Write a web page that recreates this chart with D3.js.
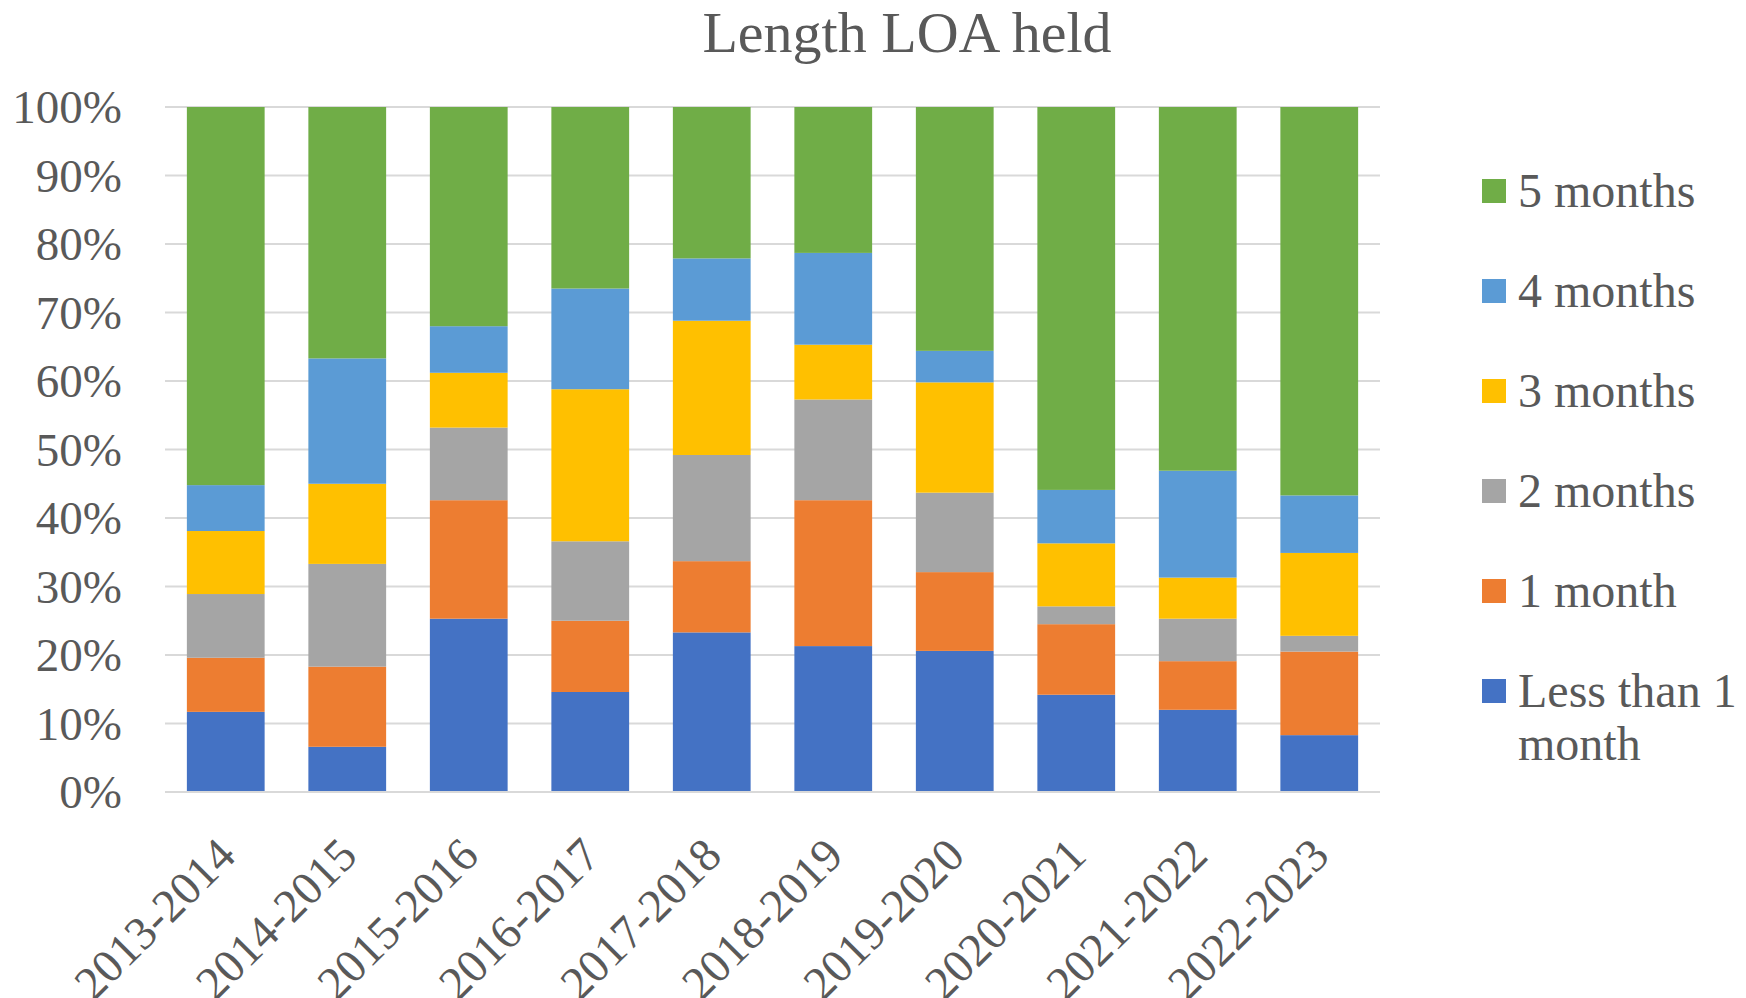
<!DOCTYPE html>
<html>
<head>
<meta charset="utf-8">
<script src="https://cdn.jsdelivr.net/npm/d3@7"></script>
<style>
  html, body { margin: 0; padding: 0; background: #ffffff; }
  svg { display: block; }
</style>
</head>
<body>
<svg id="chart" width="1746" height="998"></svg>
<script>
const categories = ["2013-2014","2014-2015","2015-2016","2016-2017","2017-2018","2018-2019","2019-2020","2020-2021","2021-2022","2022-2023"];
const seriesNames = ["Less than 1 month","1 month","2 months","3 months","4 months","5 months"];
const lessThan1 = [11.7, 6.6, 25.3, 14.6, 23.3, 21.3, 20.6, 14.2, 12.0, 8.3];
const month1    = [7.9, 11.7, 17.3, 10.4, 10.4, 21.3, 11.5, 10.3, 7.1, 12.2];
const months2   = [9.3, 15.0, 10.6, 11.6, 15.5, 14.7, 11.6, 2.6, 6.2, 2.3];
const months3   = [9.2, 11.7, 8.0, 22.2, 19.6, 8.0, 16.1, 9.2, 6.0, 12.1];
const months4   = [6.7, 18.3, 6.8, 14.7, 9.1, 13.4, 4.6, 7.8, 15.6, 8.4];
const months5   = [55.2, 36.7, 32.0, 26.5, 22.1, 21.3, 35.6, 55.9, 53.1, 56.7];
const seriesColors = ["#4472C4","#ED7D31","#A5A5A5","#FFC000","#5B9BD5","#70AD47"];
const yTicks = [0,10,20,30,40,50,60,70,80,90,100];
const titleText = "Length LOA held";

const allSeries = [lessThan1, month1, months2, months3, months4, months5];
const rows = categories.map((c, i) => {
  const r = { cat: c };
  seriesNames.forEach((s, k) => { r[s] = allSeries[k][i]; });
  return r;
});

const svg = d3.select("#chart");
const textColor = "#595959";
const font = "'Liberation Serif', 'Times New Roman', serif";

const plot = { left: 165, right: 1380, top: 107, bottom: 792 };

const x = d3.scaleBand().domain(categories).range([plot.left, plot.right]).paddingInner(0.36).paddingOuter(0.18);
const y = d3.scaleLinear().domain([0, 100]).range([plot.bottom, plot.top]);

// gridlines
svg.append("g").selectAll("line").data(yTicks).join("line")
  .attr("x1", plot.left).attr("x2", plot.right)
  .attr("y1", d => y(d)).attr("y2", d => y(d))
  .attr("stroke", "#d9d9d9").attr("stroke-width", 2);

// stacked bars
const stack = d3.stack().keys(seriesNames);
const stacked = stack(rows);
const normStacked = stacked.map(layer => layer); 

svg.append("g").selectAll("g").data(normStacked).join("g")
  .attr("fill", (d, i) => seriesColors[i])
  .selectAll("rect").data(d => d).join("rect")
  .attr("x", d => x(d.data.cat))
  .attr("width", x.bandwidth())
  .attr("y", d => y(Math.min(d[1], 100)))
  .attr("height", d => y(d[0]) - y(Math.min(d[1], 100)));

// axis baseline
svg.append("line")
  .attr("x1", plot.left).attr("x2", plot.right)
  .attr("y1", y(0)).attr("y2", y(0))
  .attr("stroke", "#d9d9d9").attr("stroke-width", 2);

// y labels
svg.append("g").selectAll("text").data(yTicks).join("text")
  .attr("x", 122).attr("y", d => y(d) + 16)
  .attr("text-anchor", "end")
  .attr("font-family", font).attr("font-size", 47)
  .attr("fill", textColor)
  .text(d => d + "%");

// x labels
svg.append("g").selectAll("text").data(categories).join("text")
  .attr("transform", d => `translate(${x(d) + x.bandwidth() / 2 + 12},858) rotate(-45)`)
  .attr("text-anchor", "end")
  .attr("font-family", font).attr("font-size", 47)
  .attr("fill", textColor)
  .text(d => d);

// title
svg.append("text")
  .attr("x", 907).attr("y", 52)
  .attr("text-anchor", "middle")
  .attr("font-family", font).attr("font-size", 58)
  .attr("fill", textColor)
  .text(titleText);

// legend (reverse order)
const legendItems = seriesNames.map((s, i) => ({ name: s, color: seriesColors[i] })).reverse();
const lg = svg.append("g").selectAll("g").data(legendItems).join("g")
  .attr("transform", (d, i) => `translate(1482,${191 + i * 100})`);
lg.append("rect").attr("x", 0).attr("y", -12).attr("width", 24).attr("height", 24)
  .attr("fill", d => d.color);
lg.append("text")
  .attr("x", 36).attr("y", 16)
  .attr("font-family", font).attr("font-size", 48)
  .attr("fill", textColor)
  .each(function(d) {
    const t = d3.select(this);
    if (d.name === "Less than 1 month") {
      t.append("tspan").attr("x", 36).attr("dy", 0).text("Less than 1");
      t.append("tspan").attr("x", 36).attr("dy", 53).text("month");
    } else {
      t.text(d.name);
    }
  });
</script>
</body>
</html>
